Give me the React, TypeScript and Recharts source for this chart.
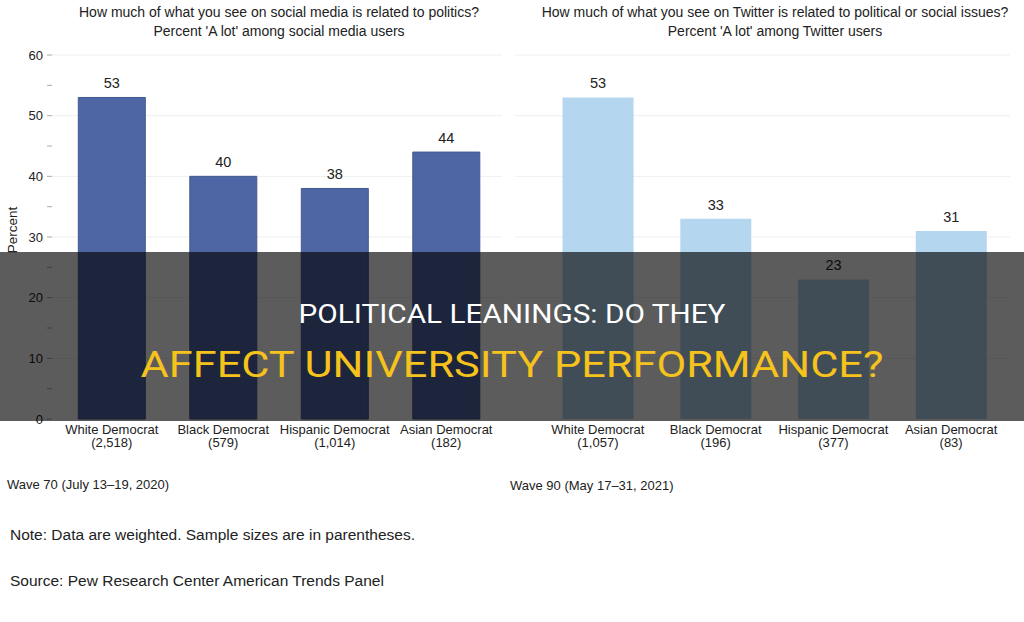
import { BarChart, Bar, XAxis, YAxis, LabelList, CartesianGrid } from "recharts";

const categories = ["White Democrat", "Black Democrat", "Hispanic Democrat", "Asian Democrat"];
const socialSizes = ["2,518", "579", "1,014", "182"];
const socialValues = [53, 40, 38, 44];
const twitterSizes = ["1,057", "196", "377", "83"];
const twitterValues = [53, 33, 23, 31];
const yTicks = [0, 5, 10, 15, 20, 25, 30, 35, 40, 45, 50, 55, 60];
const gridValues = [10, 20, 30, 40, 50, 60];

const socialData = categories.map((name, i) => ({ name, value: socialValues[i] }));
const twitterData = categories.map((name, i) => ({ name, value: twitterValues[i] }));

const FONT = "'Liberation Sans', Arial, Helvetica, sans-serif";
const BANNER_FONT = "Roboto, 'Liberation Sans', sans-serif";

function CategoryTick(props: any) {
    const { x, y, payload, sizes } = props;
    const i = categories.indexOf(payload.value);
    return (
        <g>
            <text x={x} y={y + 7} textAnchor="middle" fontSize={13} fill="#222" fontFamily={FONT}>
                {payload.value}
            </text>
            <text x={x} y={y + 20} textAnchor="middle" fontSize={13} fill="#222" fontFamily={FONT}>
                ({sizes[i]})
            </text>
        </g>
    );
}

const abs = (left: number, top: number, extra: any = {}) => ({
    position: "absolute" as const,
    left,
    top,
    ...extra,
});

export default function App() {
    return (
        <div
            style={{
                position: "absolute",
                left: 0,
                top: 0,
                width: 1024,
                height: 622,
                background: "#fff",
                overflow: "hidden",
                fontFamily: FONT,
                color: "#222",
            }}
        >
            {/* titles */}
            <div style={abs(40, 3, { width: 478, textAlign: "center", fontSize: 14, lineHeight: "19px" })}>
                How much of what you see on social media is related to politics?
                <br />
                Percent 'A lot' among social media users
            </div>
            <div style={abs(515, 3, { width: 520, textAlign: "center", fontSize: 14, lineHeight: "19px" })}>
                How much of what you see on Twitter is related to political or social issues?
                <br />
                Percent 'A lot' among Twitter users
            </div>

            <div
                style={abs(-17, 221, {
                    width: 60,
                    textAlign: "center",
                    fontSize: 13.5,
                    lineHeight: "18px",
                    transform: "rotate(-90deg)",
                })}
            >
                Percent
            </div>

            <div style={abs(0, 0)}>
                <BarChart
                    width={512}
                    height={460}
                    data={socialData}
                    margin={{ top: 55, right: 10, left: 0, bottom: 0 }}
                    barCategoryGap="20%"
                >
                    <CartesianGrid vertical={false} horizontalValues={gridValues} stroke="#efefef" />
                    <XAxis
                        dataKey="name"
                        height={41}
                        axisLine={false}
                        tickLine={false}
                        padding={{ left: 4, right: 0 }}
                        interval={0}
                        tick={(p: any) => <CategoryTick {...p} sizes={socialSizes} />}
                    />
                    <YAxis
                        width={52}
                        domain={[0, 60]}
                        ticks={yTicks}
                        interval={0}
                        axisLine={false}
                        tickSize={5}
                        tickMargin={4}
                        tickLine={{ stroke: "#aaa" }}
                        tick={{ fill: "#222", fontSize: 13, fontFamily: FONT }}
                        tickFormatter={(v: number) => (v % 10 === 0 ? String(v) : "")}
                    />
                    <Bar dataKey="value" fill="#4e66a3" stroke="#42598f" isAnimationActive={false}>
                        <LabelList
                            dataKey="value"
                            position="top"
                            offset={9}
                            fill="#222"
                            fontSize={14.5}
                            fontFamily={FONT}
                        />
                    </Bar>
                </BarChart>
            </div>

            <div style={abs(512, 0)}>
                <BarChart
                    width={512}
                    height={460}
                    data={twitterData}
                    margin={{ top: 55, right: 14, left: 3, bottom: 0 }}
                    barCategoryGap="20%"
                >
                    <CartesianGrid vertical={false} horizontalValues={gridValues} stroke="#efefef" />
                    <XAxis
                        dataKey="name"
                        height={41}
                        axisLine={false}
                        tickLine={false}
                        padding={{ left: 24, right: 0 }}
                        interval={0}
                        tick={(p: any) => <CategoryTick {...p} sizes={twitterSizes} />}
                    />
                    <YAxis hide domain={[0, 60]} ticks={yTicks} />
                    <Bar dataKey="value" fill="#b5d6ef" isAnimationActive={false}>
                        <LabelList
                            dataKey="value"
                            position="top"
                            offset={9}
                            fill="#222"
                            fontSize={14.5}
                            fontFamily={FONT}
                        />
                    </Bar>
                </BarChart>
            </div>

            {/* wave labels and notes */}
            <div style={abs(7, 477, { fontSize: 13 })}>Wave 70 (July 13–19, 2020)</div>
            <div style={abs(510, 478, { fontSize: 13 })}>Wave 90 (May 17–31, 2021)</div>
            <div style={abs(10, 526, { fontSize: 15.5 })}>
                Note: Data are weighted. Sample sizes are in parentheses.
            </div>
            <div style={abs(10, 572, { fontSize: 15.5 })}>
                Source: Pew Research Center American Trends Panel
            </div>

            {/* overlay banner */}
            <div
                style={abs(0, 252, {
                    width: 1024,
                    height: 169,
                    background: "rgba(0,0,0,0.64)",
                })}
            >
                <div
                    style={abs(0, 48, {
                        width: 1024,
                        textAlign: "center",
                        color: "#fff",
                        fontFamily: BANNER_FONT,
                        fontSize: 25,
                        lineHeight: "30px",
                        transform: "scaleX(1.19)",
                    })}
                >
                    POLITICAL LEANINGS: DO THEY
                </div>
                <div
                    style={abs(0, 91, {
                        width: 1024,
                        textAlign: "center",
                        color: "#f6c21c",
                        fontFamily: BANNER_FONT,
                        fontSize: 37,
                        lineHeight: "44px",
                        transform: "scaleX(1.17)",
                    })}
                >
                    AFFECT UNIVERSITY PERFORMANCE?
                </div>
            </div>
        </div>
    );
}
